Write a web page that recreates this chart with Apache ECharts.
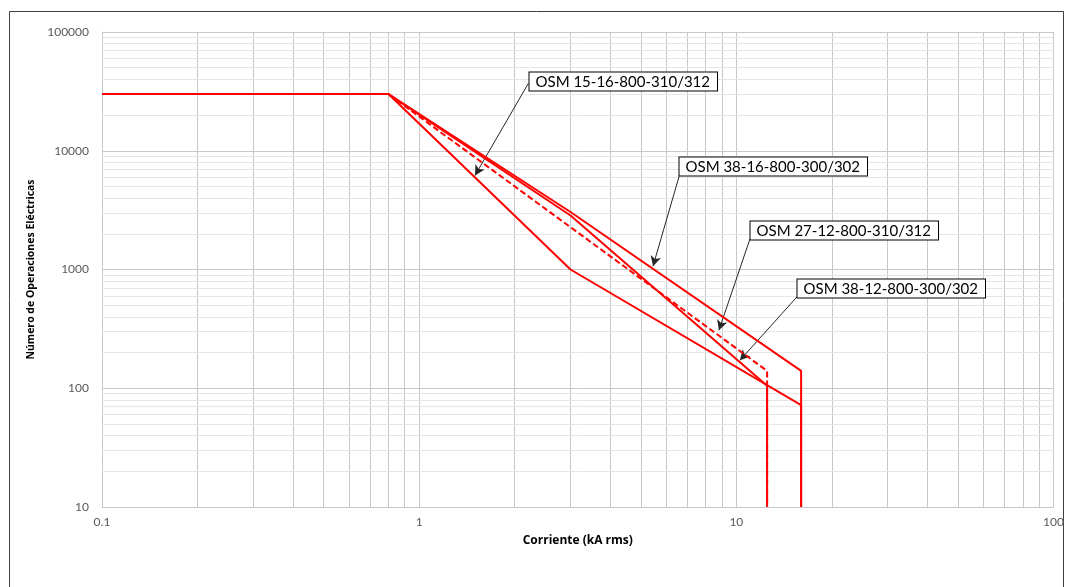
<!DOCTYPE html>
<html>
<head>
<meta charset="utf-8">
<script src="https://cdn.jsdelivr.net/npm/echarts@6/dist/echarts.min.js"></script>
<style>
html,body{margin:0;padding:0;background:#fff;}
#chart{width:1067px;height:587px;}
</style>
</head>
<body>
<div id="chart"></div>
<script>
// ---- data ----
const xTicks = [0.1, 1, 10, 100];
const xTickLabels = ['0.1', '1', '10', '100'];
const yTicks = [10, 100, 1000, 10000, 100000];
const yTickLabels = ['10', '100', '1000', '10000', '100000'];
const xMinor = [0.2,0.3,0.4,0.5,0.6,0.7,0.8,0.9,2,3,4,5,6,7,8,9,20,30,40,50,60,70,80,90];
const yMinor = [20,30,40,50,60,70,80,90,200,300,400,500,600,700,800,900,2000,3000,4000,5000,6000,7000,8000,9000,20000,30000,40000,50000,60000,70000,80000,90000];

const seriesNames = ['OSM 15-16-800-310/312', 'OSM 38-16-800-300/302', 'OSM 27-12-800-310/312', 'OSM 38-12-800-300/302'];
const current_15_16 = [0.1, 0.8, 3, 16, 16];
const ops_15_16     = [30000, 30000, 1000, 72, 10];
const current_38_16 = [0.1, 0.8, 3, 16, 16];
const ops_38_16     = [30000, 30000, 3050, 140, 10];
const current_27_12 = [0.1, 0.8, 12.5, 12.5];
const ops_27_12     = [30000, 30000, 140, 10];
const current_38_12 = [0.1, 0.8, 3, 12.5, 12.5];
const ops_38_12     = [30000, 30000, 2850, 105, 10];

// annotation: arrow tip (on curve), arrow tail and box corner, in data units
const annTip  = [[1.5, 6200], [5.46, 1067], [8.81, 308], [10.26, 172]];
const annTail = [[2.21, 37000], [6.6, 6100], [11.03, 1800], [15.5, 585]];
const annBox  = [[2.22, 45800], [6.6, 8810], [11.03, 2550], [15.5, 828]];

const zip = (a, b) => a.map((v, i) => [v, b[i]]);

const chart = echarts.init(document.getElementById('chart'));
const FONT = 'Lato, "Open Sans", sans-serif';
const TFONT = '"Open Sans", Lato, sans-serif';
const fmt = (ticks, labels) => (v) => {
  const i = ticks.findIndex(t => Math.abs(Math.log10(t) - Math.log10(v)) < 1e-6);
  return i >= 0 ? labels[i] : '';
};

const redLine = (name, data, dashed) => ({
  name, type: 'line', data, symbol: 'none', z: 5,
  lineStyle: { color: '#ff0000', width: 2, type: dashed ? [6, 3] : 'solid' },
  animation: false
});

const option = {
  animation: false,
  grid: { left: 102, right: 12, top: 32, bottom: 80 },
  xAxis: {
    type: 'log', logBase: 10, min: 0.1, max: 100,
    name: 'Corriente (kA rms)', nameLocation: 'middle', nameGap: 28,
    nameTextStyle: { fontFamily: TFONT, fontWeight: 'bold', fontSize: 12, color: '#000' },
    axisLine: { show: true, lineStyle: { color: '#c8c8c8', width: 1 } },
    axisTick: { show: false },
    axisLabel: { fontFamily: FONT, fontSize: 12, color: '#595959', margin: 9, formatter: fmt(xTicks, xTickLabels) },
    splitLine: { show: true, lineStyle: { color: '#c8c8c8', width: 1 } }
  },
  yAxis: {
    type: 'log', logBase: 10, min: 10, max: 100000,
    name: 'Número de Operaciones Eléctricas', nameLocation: 'middle', nameGap: 61,
    nameTextStyle: { fontFamily: TFONT, fontWeight: 'bold', fontSize: 10.5, color: '#000' },
    axisLine: { show: true, lineStyle: { color: '#c8c8c8', width: 1 } },
    axisTick: { show: false },
    axisLabel: { fontFamily: FONT, fontSize: 12, color: '#595959', margin: 13, formatter: fmt(yTicks, yTickLabels) },
    splitLine: { show: true, lineStyle: { color: '#c8c8c8', width: 1 } }
  },
  series: [
    {
      name: 'grid', type: 'line', data: [[0.1, 10]], symbol: 'none', z: 1, silent: true,
      lineStyle: { width: 0 },
      markLine: {
        silent: true, symbol: ['none', 'none'], animation: false,
        label: { show: false },
        data: [
          ...xMinor.map(v => ({ xAxis: v, lineStyle: { color: '#c8c8c8', width: 1, type: 'solid' } })),
          ...yMinor.map(v => ({ yAxis: v, lineStyle: { color: '#e6e6e6', width: 1, type: 'solid' } }))
        ]
      }
    },
    redLine(seriesNames[0], zip(current_15_16, ops_15_16), false),
    redLine(seriesNames[1], zip(current_38_16, ops_38_16), false),
    redLine(seriesNames[2], zip(current_27_12, ops_27_12), true),
    redLine(seriesNames[3], zip(current_38_12, ops_38_12), false),
    {
      name: 'arrows', type: 'line', data: [[0.1, 10]], symbol: 'none', z: 10, silent: true,
      lineStyle: { width: 0 },
      markLine: {
        silent: true, animation: false,
        symbol: ['none', 'arrow'], symbolSize: [8, 10],
        label: { show: false },
        lineStyle: { color: '#262626', width: 1, type: 'solid' },
        data: annTip.map((tip, i) => [{ coord: annTail[i] }, { coord: tip }])
      }
    }
  ]
};
chart.setOption(option);

function drawBoxes() {
  const els = [{
    type: 'rect', shape: { x: 9.5, y: 11.5, width: 1054, height: 620 },
    style: { fill: 'none', stroke: '#404040', lineWidth: 1 }, silent: true, z: 0
  }];
  annBox.forEach((b, i) => {
    const p = chart.convertToPixel({ gridIndex: 0 }, b);
    els.push({
      type: 'text', x: Math.round(p[0]) + 0.5, y: Math.round(p[1]) + 0.5, z: 20,
      style: {
        text: seriesNames[i], font: '15px ' + FONT, fill: '#000',
        backgroundColor: '#fff', borderColor: '#000', borderWidth: 1,
        padding: [2, 7, 1, 6], align: 'left', verticalAlign: 'top'
      }
    });
  });
  chart.setOption({ graphic: els });
}
drawBoxes();
</script>
</body>
</html>
